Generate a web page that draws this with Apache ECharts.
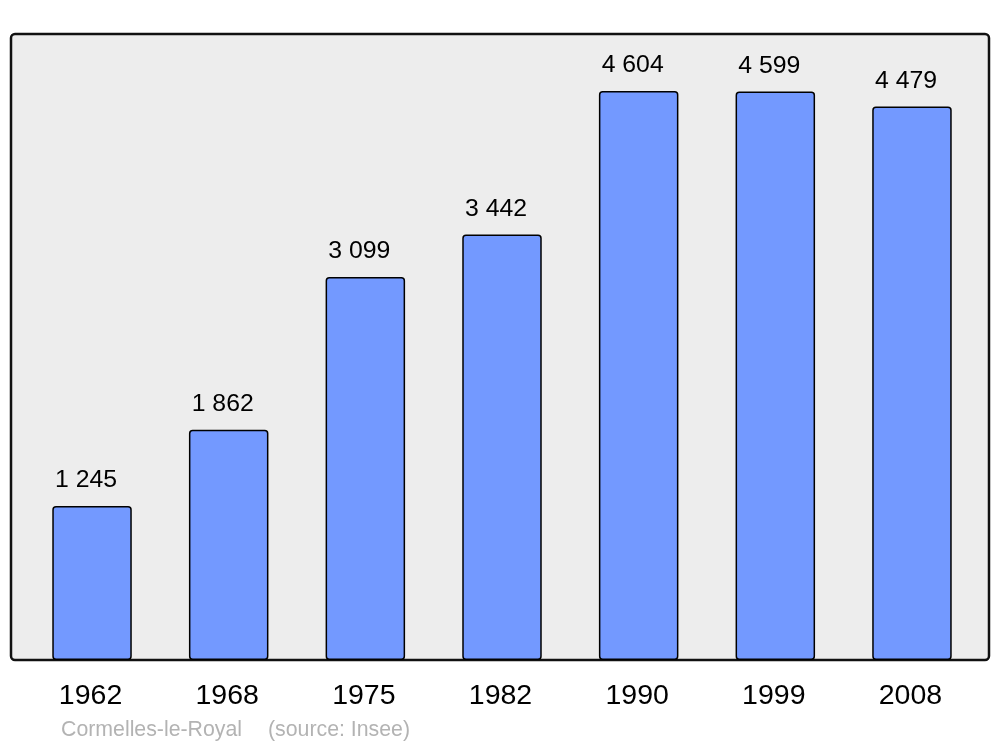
<!DOCTYPE html>
<html>
<head>
<meta charset="utf-8">
<script src="https://cdn.jsdelivr.net/npm/echarts@6/dist/echarts.min.js"></script>
<style>html,body{margin:0;padding:0;background:#fff;}#c{width:1000px;height:747px;}</style>
</head>
<body>
<div id="c"></div>
<script>
var years = ['1962', '1968', '1975', '1982', '1990', '1999', '2008'];
var population = [1245, 1862, 3099, 3442, 4604, 4599, 4479];
var footerName = 'Cormelles-le-Royal';
var footerSource = '(source: Insee)';

function fmt(v) {
  return String(v).replace(/\B(?=(\d{3})+(?!\d))/g, ' ');
}

var chart = echarts.init(document.getElementById('c'), null, {renderer: 'canvas'});
chart.setOption({
  animation: false,
  textStyle: {fontFamily: 'Liberation Sans, Arial, sans-serif'},
  graphic: [
    {
      type: 'rect', z: 0, silent: true,
      shape: {x: 11, y: 34, width: 978, height: 626, r: 4},
      style: {fill: '#ededed', stroke: '#111', lineWidth: 2.5}
    },
    {
      type: 'text', z: 5, left: 61, top: 720,
      style: {text: footerName, fill: '#b3b3b3', font: '21.3px "Liberation Sans", Arial, sans-serif'}
    },
    {
      type: 'text', z: 5, left: 268, top: 720,
      style: {text: footerSource, fill: '#b3b3b3', font: '21.3px "Liberation Sans", Arial, sans-serif'}
    }
  ],
  grid: {left: 23.7, right: 19.7, top: 42, bottom: 87, containLabel: false},
  xAxis: {
    type: 'category',
    data: years,
    axisLine: {show: false},
    axisTick: {show: false},
    axisLabel: {color: '#000', fontSize: 28.5, margin: 22, padding: [0, 3, 0, 0], fontFamily: 'Liberation Sans, Arial, sans-serif'}
  },
  yAxis: {
    type: 'value', min: 0, max: 5000,
    show: false,
    splitLine: {show: false}
  },
  series: [{
    type: 'bar',
    data: population,
    barWidth: 79.5,
    z: 2,
    itemStyle: {color: '#7399ff', borderColor: '#000', borderWidth: 1.5, borderRadius: 3},
    label: {
      show: true, position: 'top', distance: 13, offset: [-6, 0],
      color: '#000', fontSize: 24.8, fontFamily: 'Liberation Sans, Arial, sans-serif',
      formatter: function (p) { return fmt(p.value); }
    }
  }]
});
</script>
</body>
</html>
